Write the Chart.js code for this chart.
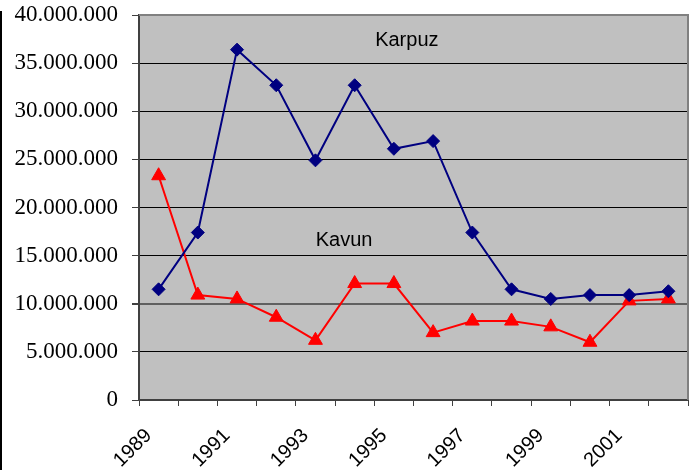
<!DOCTYPE html>
<html>
<head>
<meta charset="utf-8">
<script src="https://cdn.jsdelivr.net/npm/chart.js@4"></script>
<style>
  body { margin: 0; background: #fff; }
  #wrap { position: relative; width: 697px; height: 470px; }
  #edge { position: absolute; left: 0; top: 11px; width: 2px; height: 459px; background: #000; }
</style>
</head>
<body>
<div id="wrap">
  <canvas id="melonChart" width="697" height="470"></canvas>
  <div id="edge"></div>
</div>
<script>
const years = ['1989', '1990', '1991', '1992', '1993', '1994', '1995', '1996', '1997', '1998', '1999', '2000', '2001', '2002'];
const karpuz = [11500000, 17400000, 36400000, 32700000, 24900000, 32700000, 26100000, 26900000, 17400000, 11500000, 10500000, 10900000, 10900000, 11300000];
const kavun = [23300000, 10900000, 10500000, 8600000, 6200000, 12100000, 12100000, 7000000, 8200000, 8200000, 7600000, 6000000, 10300000, 10500000];

// text labels placed inside the plot (category index, value)
const seriesLabels = [
  { text: 'Karpuz', x: 6.33, y: 37400000 },
  { text: 'Kavun', x: 4.73, y: 16600000 }
];

function dotted(v) {
  return String(v).replace(/\B(?=(\d{3})+(?!\d))/g, '.');
}

// keep the plot box where it is in the picture, labels may hang outside
function noPad(s) {
  s.paddingTop = 0;
  s.paddingBottom = 0;
  s.paddingLeft = 0;
  s.paddingRight = 0;
}

const plotBackground = {
  id: 'plotBackground',
  beforeDraw(chart) {
    const { ctx, chartArea: a } = chart;
    ctx.save();
    ctx.fillStyle = '#c0c0c0';
    ctx.fillRect(a.left, a.top, a.right - a.left, a.bottom - a.top);
    ctx.restore();
  },
  afterDraw(chart) {
    const { ctx, chartArea: a } = chart;
    ctx.save();
    ctx.strokeStyle = '#808080';
    ctx.lineWidth = 2;
    ctx.beginPath();
    ctx.moveTo(a.left, a.top);
    ctx.lineTo(a.right, a.top);
    ctx.lineTo(a.right, a.bottom);
    ctx.stroke();
    ctx.restore();
  }
};

const inlineLabels = {
  id: 'inlineLabels',
  afterDatasetsDraw(chart) {
    const { ctx, scales } = chart;
    ctx.save();
    ctx.font = '20px "Liberation Sans", Arial, sans-serif';
    ctx.fillStyle = '#000';
    ctx.textAlign = 'center';
    ctx.textBaseline = 'middle';
    seriesLabels.forEach(l => {
      ctx.fillText(l.text, scales.x.getPixelForValue(l.x), scales.y.getPixelForValue(l.y));
    });
    ctx.restore();
  }
};

const ctx = document.getElementById('melonChart').getContext('2d');
new Chart(ctx, {
  type: 'line',
  data: {
    labels: years,
    datasets: [
      {
        label: 'Karpuz',
        data: karpuz,
        borderColor: '#000080',
        backgroundColor: '#000080',
        borderWidth: 2,
        pointStyle: 'rectRot',
        pointRadius: 6.5,
        pointBorderWidth: 1,
        tension: 0
      },
      {
        label: 'Kavun',
        data: kavun,
        borderColor: '#ff0000',
        backgroundColor: '#ff0000',
        borderWidth: 2,
        pointStyle: 'triangle',
        pointRadius: 8,
        pointBorderWidth: 1,
        tension: 0
      }
    ]
  },
  options: {
    responsive: false,
    animation: false,
    layout: { padding: { top: 15, right: 7, left: 0, bottom: 0 } },
    plugins: {
      legend: { display: false },
      tooltip: { enabled: false },
      title: { display: false }
    },
    scales: {
      x: {
        offset: true,
        grid: {
          offset: true,
          drawOnChartArea: false,
          drawTicks: true,
          tickLength: 6,
          tickColor: '#404040'
        },
        border: { color: '#404040', width: 2 },
        ticks: {
          autoSkip: false,
          maxRotation: 45,
          minRotation: 45,
          labelOffset: -10,
          padding: 18,
          color: '#000',
          font: { family: '"Liberation Sans", Arial, sans-serif', size: 20 },
          callback: (v, i) => (i % 2 === 0 ? years[i] : '')
        },
        afterFit: s => { s.height = 70; noPad(s); }
      },
      y: {
        min: 0,
        max: 40000000,
        grid: {
          color: c => (c.tick && c.tick.value === 10000000 ? '#606060' : '#000'),
          lineWidth: c => (c.tick && c.tick.value === 10000000 ? 2 : 1),
          tickLength: 7,
          tickColor: '#404040'
        },
        border: { color: '#404040', width: 2 },
        ticks: {
          stepSize: 5000000,
          padding: 14,
          color: '#000',
          font: { family: '"Liberation Serif", "Times New Roman", serif', size: 23 },
          callback: v => dotted(v)
        },
        afterFit: s => { s.width = 139; noPad(s); }
      }
    }
  },
  plugins: [plotBackground, inlineLabels]
});
</script>
</body>
</html>
